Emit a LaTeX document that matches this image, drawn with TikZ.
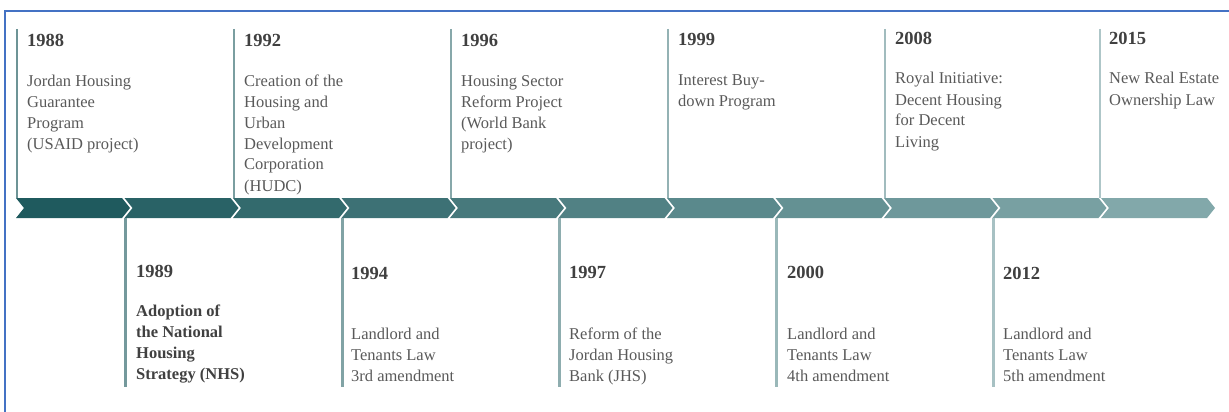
\documentclass[tikz,border=0pt]{standalone}
\usepackage{fontspec}
\setmainfont{Liberation Serif}
\definecolor{frameblue}{RGB}{68,114,196}
\definecolor{yeargray}{RGB}{64,64,64}
\definecolor{bodygray}{RGB}{89,89,89}
\definecolor{ch1}{RGB}{31,90,94}
\definecolor{ch2}{RGB}{41,98,102}
\definecolor{ch3}{RGB}{51,106,109}
\definecolor{ch4}{RGB}{61,113,117}
\definecolor{ch5}{RGB}{71,121,124}
\definecolor{ch6}{RGB}{81,129,132}
\definecolor{ch7}{RGB}{90,137,140}
\definecolor{ch8}{RGB}{100,145,147}
\definecolor{ch9}{RGB}{110,152,155}
\definecolor{ch10}{RGB}{120,160,162}
\definecolor{ch11}{RGB}{130,168,170}
\newcommand{\tlines}[1]{\begin{tabular}[t]{@{}l@{}}#1\end{tabular}}
\tikzset{
  yearlabel/.style={anchor=base west, inner sep=0pt, text=yeargray,
    font=\fontsize{18.5}{21}\selectfont\bfseries},
  bodytext/.style={anchor=base west, inner sep=0pt, text=bodygray,
    font=\fontsize{16.5}{21}\selectfont},
  boldtext/.style={anchor=base west, inner sep=0pt, text=yeargray,
    font=\fontsize{16.5}{21}\selectfont\bfseries},
  stem/.style={line width=2.4pt},
  framerule/.style={draw=frameblue, line width=2pt}
}
\begin{document}
\begin{tikzpicture}[x=1pt,y=-1pt]
\useasboundingbox (0,0) rectangle (1229,412);
% frame
\coordinate (fbl) at (5,413);
\coordinate (ftl) at (5,11.5);
\coordinate (ftr) at (1230,11.5);
\draw[framerule] (fbl) -- (ftl) -- (ftr);
% chevrons
\foreach \k in {1,...,11}{
  \pgfmathsetmacro\xo{16+108.5*(\k-1)}
  \fill[ch\k] (\xo,198) -- ++(106,0) -- ++(8,10) -- ++(-8,10) -- ++(-106,0) -- ++(8,-10) -- cycle;
  \coordinate (ct\k) at (\xo+1,198);
  \coordinate (cb\k) at (\xo+1,218);
}
% top events
\coordinate (t1) at (17,29);
\draw[stem, ch1!65!white] (t1) -- (t1 |- ct1);
\node[yearlabel] (y1) at (27,47) {1988};
\node[bodytext] (b1) at (27,86) {\tlines{Jordan Housing\\Guarantee\\Program\\(USAID project)}};

\coordinate (t3) at (234,29);
\draw[stem, ch3!65!white] (t3) -- (t3 |- ct3);
\node[yearlabel] (y3) at (244,47) {1992};
\node[bodytext] (b3) at (244,86) {\tlines{Creation of the\\Housing and\\Urban\\Development\\Corporation\\(HUDC)}};

\coordinate (t5) at (451,29);
\draw[stem, ch5!65!white] (t5) -- (t5 |- ct5);
\node[yearlabel] (y5) at (461,47) {1996};
\node[bodytext] (b5) at (461,86) {\tlines{Housing Sector\\Reform Project\\(World Bank\\project)}};

\coordinate (t7) at (668,29);
\draw[stem, ch7!65!white] (t7) -- (t7 |- ct7);
\node[yearlabel] (y7) at (678,46) {1999};
\node[bodytext] (b7) at (678,85) {\tlines{Interest Buy-\\down Program}};

\coordinate (t9) at (885,29);
\draw[stem, ch9!65!white] (t9) -- (t9 |- ct9);
\node[yearlabel] (y9) at (895,45) {2008};
\node[bodytext] (b9) at (895,84) {\tlines{Royal Initiative:\\Decent Housing\\for Decent\\Living}};

\coordinate (t11) at (1100,29);
\draw[stem, ch11!65!white] (t11) -- (t11 |- ct11);
\node[yearlabel] (y11) at (1109,45) {2015};
\node[bodytext] (b11) at (1109,84) {\tlines{New Real Estate\\Ownership Law}};

% bottom events
\coordinate (u2) at (126,387);
\draw[stem, ch2!65!white] (cb2) -- (cb2 |- u2);
\node[yearlabel] (y2) at (136,277) {1989};
\node[boldtext] (b2) at (136,316) {\tlines{Adoption of\\the National\\Housing\\Strategy (NHS)}};

\coordinate (u4) at (341,387);
\draw[stem, ch4!65!white] (cb4) -- (cb4 |- u4);
\node[yearlabel] (y4) at (351,279) {1994};
\node[bodytext] (b4) at (351,339) {\tlines{Landlord and\\Tenants Law\\3rd amendment}};

\coordinate (u6) at (559,387);
\draw[stem, ch6!65!white] (cb6) -- (cb6 |- u6);
\node[yearlabel] (y6) at (569,278) {1997};
\node[bodytext] (b6) at (569,339) {\tlines{Reform of the\\Jordan Housing\\Bank (JHS)}};

\coordinate (u8) at (777,387);
\draw[stem, ch8!65!white] (cb8) -- (cb8 |- u8);
\node[yearlabel] (y8) at (787,278) {2000};
\node[bodytext] (b8) at (787,339) {\tlines{Landlord and\\Tenants Law\\4th amendment}};

\coordinate (u10) at (993,387);
\draw[stem, ch10!65!white] (cb10) -- (cb10 |- u10);
\node[yearlabel] (y10) at (1003,279) {2012};
\node[bodytext] (b10) at (1003,339) {\tlines{Landlord and\\Tenants Law\\5th amendment}};
\end{tikzpicture}
\end{document}
